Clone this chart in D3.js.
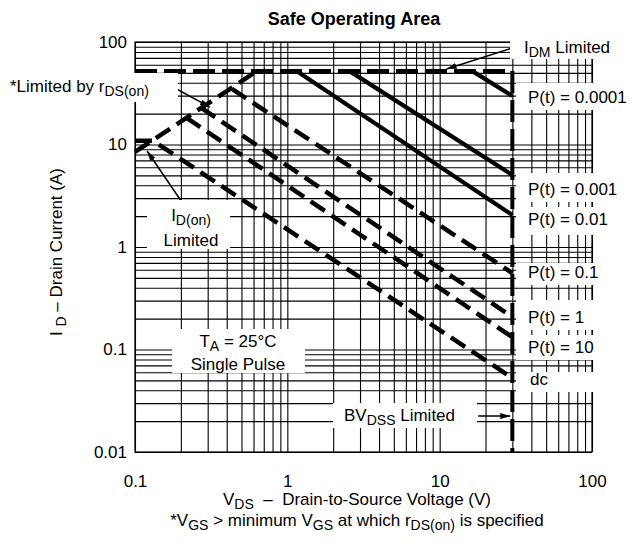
<!DOCTYPE html>
<html>
<head>
<meta charset="utf-8">
<script src="https://cdn.jsdelivr.net/npm/d3@7"></script>
<style>
body { margin: 0; background: #fff; }
text { font-family: "Liberation Sans", Arial, Helvetica, sans-serif; fill: #000; }
</style>
</head>
<body>
<div id="chart"></div>
<script>
// values: V (volts) on x, I (amps) on y
var vdsTicks = [0.1, 1, 10, 100];
var idTicks = [0.01, 0.1, 1, 10, 100];
var idmLimit = 52;
var bvdss = 30;
var rdsLimit = [[0.1, 8.45], [0.63, 52]];
var p0001 = [[16.4, 52], [30, 29.7]];
var p001 = [[2.56, 52], [30, 5.03]];
var p01 = [[1.15, 52], [30, 2.05]];
var p1 = [[0.433, 34.8], [30, 0.557]];
var p10 = [[0.271, 22.9], [30, 0.2075]];
var p100 = [[0.217, 18.3], [30, 0.132]];
var dcLine = [[0.1, 10.9], [0.131, 10.9], [30, 0.0527]];
var curveNames = ["P(t) = 0.0001", "P(t) = 0.001", "P(t) = 0.01", "P(t) = 0.1", "P(t) = 1", "P(t) = 10", "dc"];

// annotation arrows, tail then head, in data units
var idmArrow = [[31.4, 89.4], [11.1, 54.6]];
var rdsArrow = [[0.1775, 36.4], [0.31, 23.2]];
var idonArrow = [[0.203, 2.75], [0.12, 8.65]];
var bvArrow = [[17.9, 0.0224], [29.1, 0.0224]];

var svgWidth = 637;
var svgHeight = 546;
var margin = { top: 42, right: 45, bottom: 94, left: 135 };
var width = svgWidth - margin.left - margin.right;
var height = svgHeight - margin.top - margin.bottom;
var fs = 17, subFs = 14;

var svg = d3.select("#chart").append("svg")
    .attr("width", svgWidth)
    .attr("height", svgHeight);

svg.append("defs").append("marker")
    .attr("id", "head")
    .attr("viewBox", "0 0 10 6")
    .attr("refX", 10).attr("refY", 3)
    .attr("markerWidth", 10).attr("markerHeight", 6)
    .attr("markerUnits", "userSpaceOnUse")
    .attr("orient", "auto")
    .append("path").attr("d", "M0,0L10,3L0,6Z").attr("fill", "#000");

var chart = svg.append("g")
    .attr("transform", `translate(${margin.left}, ${margin.top})`);

var x = d3.scaleLog().domain([0.1, 100]).range([0, width]);
var y = d3.scaleLog().domain([0.01, 100]).range([height, 0]);

// full log grid
chart.append("g")
    .attr("transform", `translate(0, ${height})`)
    .call(d3.axisBottom(x).tickValues(x.ticks()).tickSize(-height).tickFormat(""))
    .call(g => g.select(".domain").remove());
chart.append("g")
    .call(d3.axisLeft(y).tickValues(y.ticks()).tickSize(-width).tickFormat(""))
    .call(g => g.select(".domain").remove());
chart.selectAll(".tick line").attr("stroke", "#000").attr("stroke-width", 1.1);

chart.append("rect")
    .attr("width", width).attr("height", height)
    .attr("fill", "none").attr("stroke", "#000").attr("stroke-width", 1.2);

// tick labels
chart.append("g")
    .attr("transform", `translate(0, ${height})`)
    .call(d3.axisBottom(x).tickValues(vdsTicks).tickSize(0).tickPadding(23).tickFormat(d3.format("~g")))
    .call(g => g.select(".domain").remove())
    .selectAll("text").attr("font-size", fs).attr("font-family", null);
chart.append("g")
    .call(d3.axisLeft(y).tickValues(idTicks).tickSize(0).tickPadding(8).tickFormat(d3.format("~g")))
    .call(g => g.select(".domain").remove())
    .selectAll("text").attr("font-size", fs).attr("font-family", null);

// labels with white boxes behind them (they break the grid)
var labels = [
  { parts: [["I"], ["DM", 1], [" Limited"]], x: 524, y: 53, box: [510, 33, 637, 59] },
  { parts: [[curveNames[0]]], x: 528, y: 103, box: [516, 83, 637, 110] },
  { parts: [[curveNames[1]]], x: 528, y: 195, box: [516, 173, 637, 202] },
  { parts: [[curveNames[2]]], x: 528, y: 225, box: [516, 207, 637, 235] },
  { parts: [[curveNames[3]]], x: 528, y: 278, box: [516, 263, 637, 285] },
  { parts: [[curveNames[4]]], x: 528, y: 323, box: [516, 300, 637, 330] },
  { parts: [[curveNames[5]]], x: 528, y: 353, box: [516, 335, 637, 360] },
  { parts: [[curveNames[6]]], x: 530, y: 385, box: [516, 372, 637, 392] },
  { parts: [["BV"], ["DSS", 1], [" Limited"]], x: 344, y: 421, box: [333, 403, 477, 428] },
  { parts: [["T"], ["A", 1], [" = 25\u00b0C"]], x: 238, y: 347, anchor: "middle", box: [172, 329, 305, 373] },
  { parts: [["Single Pulse"]], x: 238, y: 370, anchor: "middle" },
  { parts: [["I"], ["D(on)", 1]], x: 191, y: 221, anchor: "middle", box: [147, 200, 230, 249] },
  { parts: [["Limited"]], x: 191, y: 246, anchor: "middle" },
  { parts: [["*Limited by r"], ["DS(on)", 1]], x: 10, y: 92, box: [0, 73, 178, 102] }
];

function richText(sel, parts) {
  var sub = false;
  parts.forEach(function(p) {
    var t = sel.append("tspan").text(p[0]);
    if (p[1] && !sub) { t.attr("dy", 4).attr("font-size", subFs); sub = true; }
    else if (p[1]) { t.attr("font-size", subFs); }
    else if (sub) { t.attr("dy", -4); sub = false; }
  });
}

svg.selectAll("rect.box")
    .data(labels.filter(d => d.box))
    .enter().append("rect")
    .attr("class", "box")
    .attr("x", d => d.box[0]).attr("y", d => d.box[1])
    .attr("width", d => d.box[2] - d.box[0]).attr("height", d => d.box[3] - d.box[1])
    .attr("fill", "#fff");

// curves
var line = d3.line().x(d => x(d[0])).y(d => y(d[1]));
var solidCurves = [p0001, p001, p01];
var dashedCurves = [p1, p10, p100, dcLine, rdsLimit];

chart.selectAll("path.solid")
    .data(solidCurves).enter().append("path")
    .attr("d", line).attr("fill", "none")
    .attr("stroke", "#000").attr("stroke-width", 4.2);

chart.selectAll("path.dashed")
    .data(dashedCurves).enter().append("path")
    .attr("d", line).attr("fill", "none")
    .attr("stroke", "#000").attr("stroke-width", 4.5)
    .attr("stroke-dasharray", "17,8");

// IDM and BVDSS limits
chart.append("path")
    .attr("d", line([[0.1, idmLimit], [bvdss, idmLimit]]))
    .attr("fill", "none").attr("stroke", "#000").attr("stroke-width", 4)
    .attr("stroke-dasharray", "22,7");
chart.append("path")
    .attr("d", line([[bvdss, idmLimit], [bvdss, 0.01]]))
    .attr("fill", "none").attr("stroke", "#000").attr("stroke-width", 4)
    .attr("stroke-dasharray", "22,7");

// arrows
chart.selectAll("path.arrow")
    .data([idmArrow, rdsArrow, idonArrow, bvArrow]).enter().append("path")
    .attr("d", line).attr("fill", "none")
    .attr("stroke", "#000").attr("stroke-width", 1.5)
    .attr("marker-end", "url(#head)");

svg.selectAll("text.lab")
    .data(labels).enter().append("text")
    .attr("class", "lab")
    .attr("x", d => d.x).attr("y", d => d.y)
    .attr("font-size", fs)
    .attr("text-anchor", d => d.anchor || "start")
    .each(function(d) { richText(d3.select(this), d.parts); });

// titles
svg.append("text")
    .attr("x", 354).attr("y", 25)
    .attr("text-anchor", "middle")
    .attr("font-size", 18).attr("font-weight", "bold")
    .text("Safe Operating Area");

svg.append("text")
    .attr("x", 357).attr("y", 505)
    .attr("text-anchor", "middle").attr("font-size", fs)
    .call(t => richText(t, [["V"], ["DS", 1], ["\u00a0\u00a0\u2013\u00a0\u00a0Drain-to-Source Voltage (V)"]]));

svg.append("text")
    .attr("x", 357).attr("y", 526)
    .attr("text-anchor", "middle").attr("font-size", fs)
    .call(t => richText(t, [["*V"], ["GS", 1], [" > minimum V"], ["GS", 1], [" at which r"], ["DS(on)", 1], [" is specified"]]));

svg.append("text")
    .attr("transform", "translate(62, 252) rotate(-90)")
    .attr("text-anchor", "middle").attr("font-size", fs)
    .call(t => richText(t, [["I "], ["D", 1], [" \u2013 Drain Current (A)"]]));
</script>
</body>
</html>
